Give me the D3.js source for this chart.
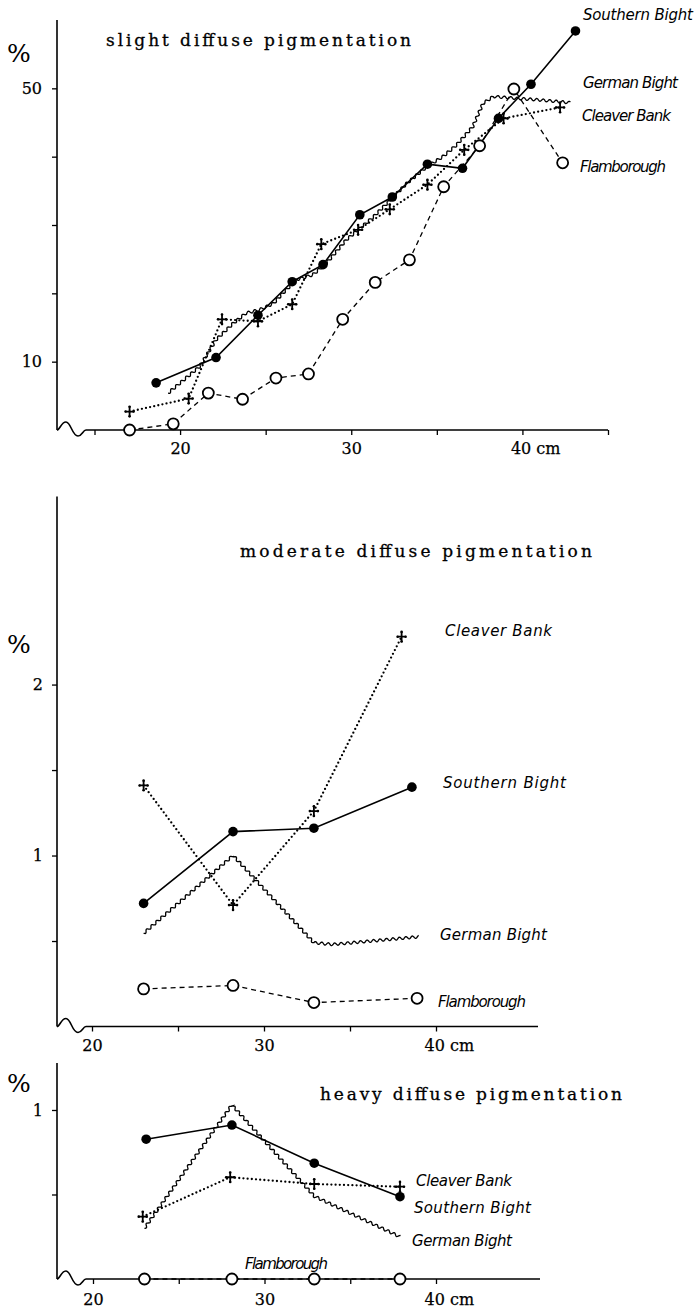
<!DOCTYPE html>
<html>
<head>
<meta charset="utf-8">
<script src="https://cdn.jsdelivr.net/npm/d3@7"></script>
<style>
body { margin: 0; background: #fff; }
svg { display: block; }
.title { font-family: "DejaVu Serif", serif; font-size: 17px; fill: #000; stroke: #000; stroke-width: 0.3px; }
.lbl { font-family: "DejaVu Sans", sans-serif; font-style: italic; font-size: 15px; fill: #000; }
.pct { font-family: "DejaVu Serif", serif; font-size: 25px; fill: #000; }
.tick text { font-family: "DejaVu Serif", serif; font-size: 16px; fill: #000; stroke: #000; stroke-width: 0.25px; }
</style>
</head>
<body>
<div id="chart"></div>
<script>
const width = 698;
const height = 1311;

const seriesNames = ["Southern Bight", "German Bight", "Cleaver Bank", "Flamborough"];
const panelTitles = ["slight diffuse pigmentation", "moderate diffuse pigmentation", "heavy diffuse pigmentation"];

// slight diffuse pigmentation (%), length in cm
const slightSouthernX = [18.6, 22.1, 24.55, 26.55, 28.35, 30.5, 32.4, 34.45, 36.5, 38.6, 40.5, 43.1];
const slightSouthernY = [6.9, 10.6, 16.8, 21.7, 24.2, 31.5, 34.1, 38.9, 38.3, 45.6, 50.6, 58.4];
const slightGermanX = [19.3, 21.15, 22.1, 23.1, 23.85, 24.65, 25.45, 26.0, 26.8, 27.75, 28.55, 29.7, 31.3, 33.25, 34.4, 35.35, 36.15, 37.1, 37.7, 38.3, 39.85, 41.0, 42.8];
const slightGermanY = [5.4, 9.3, 13.2, 15.6, 17.1, 17.6, 18.5, 20.0, 22.0, 22.7, 24.4, 27.8, 31.2, 36.1, 38.5, 40.0, 41.7, 44.4, 47.8, 48.8, 48.5, 48.3, 47.9];
const slightCleaverX = [17.05, 20.5, 22.45, 24.55, 26.55, 28.25, 30.4, 32.25, 34.45, 36.6, 38.9, 42.2];
const slightCleaverY = [2.7, 4.6, 16.2, 15.9, 18.4, 27.2, 29.3, 32.3, 35.9, 41.0, 45.6, 47.2];
const slightFlamX = [17.05, 19.6, 21.65, 23.65, 25.6, 27.5, 29.5, 31.4, 33.4, 35.4, 37.5, 39.5, 42.35];
const slightFlamY = [0, 0.9, 5.4, 4.5, 7.6, 8.2, 16.2, 21.6, 24.9, 35.6, 41.6, 49.9, 39.1];

// moderate diffuse pigmentation
const moderateSouthernX = [23.0, 28.2, 32.9, 38.6];
const moderateSouthernY = [0.72, 1.14, 1.16, 1.40];
const moderateGermanX = [23.0, 28.2, 32.9, 34.0, 39.0];
const moderateGermanY = [0.545, 1.0, 0.49, 0.48, 0.525];
const moderateCleaverX = [23.0, 28.2, 32.9, 38.0];
const moderateCleaverY = [1.41, 0.71, 1.26, 2.28];
const moderateFlamX = [23.0, 28.2, 32.9, 38.9];
const moderateFlamY = [0.22, 0.24, 0.14, 0.165];

// heavy diffuse pigmentation
const heavySouthernX = [23.1, 28.1, 32.9, 37.9];
const heavySouthernY = [0.827, 0.911, 0.685, 0.487];
const heavyGermanX = [23.0, 28.1, 32.9, 37.9];
const heavyGermanY = [0.30, 1.03, 0.49, 0.25];
const heavyCleaverX = [22.9, 28.0, 32.9, 37.9];
const heavyCleaverY = [0.369, 0.602, 0.562, 0.546];
const heavyFlamX = [23.0, 28.1, 32.9, 37.9];
const heavyFlamY = [0, 0, 0, 0];

const zip = (xs, ys) => xs.map((x, i) => [x, ys[i]]);

const svg = d3.select("#chart")
	.append("svg")
	.attr("width", width)
	.attr("height", height);

// line with a small sine ripple on it, like the hand drawn German Bight curve
function wavyPath(pts, amp, wl) {
	const p = d3.path();
	let s = 0;
	let first = true;
	for (let i = 0; i < pts.length - 1; i++) {
		const [x0, y0] = pts[i];
		const [x1, y1] = pts[i + 1];
		const len = Math.hypot(x1 - x0, y1 - y0);
		if (len === 0) continue;
		const nx = -(y1 - y0) / len;
		const ny = (x1 - x0) / len;
		const steps = Math.max(1, Math.ceil(len / 0.5));
		for (let k = first ? 0 : 1; k <= steps; k++) {
			const t = k / steps;
			const off = amp * Math.sin((2 * Math.PI * (s + t * len)) / wl);
			const x = x0 + (x1 - x0) * t + nx * off;
			const y = y0 + (y1 - y0) * t + ny * off;
			if (first) {
				p.moveTo(x, y);
				first = false;
			} else p.lineTo(x, y);
		}
		s += len;
	}
	return p.toString();
}

function drawPanel(cfg) {
	const { x, y } = cfg;
	const g = svg.append("g");
	const x0 = 57;
	const axisY = y.range()[0];
	const topY = y.range()[1];

	// y axis line
	g.append("line")
		.attr("x1", x0).attr("x2", x0)
		.attr("y1", axisY).attr("y2", topY)
		.attr("stroke", "#000").attr("stroke-width", 1.6);

	// x axis with the break sign next to the origin
	const br = d3.path();
	br.moveTo(x0, axisY);
	br.bezierCurveTo(x0 + 3, axisY, x0 + 4, axisY - 8, x0 + 9, axisY - 8);
	br.bezierCurveTo(x0 + 14, axisY - 8, x0 + 15, axisY + 6, x0 + 21, axisY + 6);
	br.bezierCurveTo(x0 + 25, axisY + 6, x0 + 26, axisY, x0 + 29, axisY);
	br.lineTo(cfg.axisEnd, axisY);
	g.append("path")
		.attr("d", br.toString())
		.attr("fill", "none")
		.attr("stroke", "#000")
		.attr("stroke-width", 1.6);

	const yAxis = g.append("g")
		.attr("transform", `translate(${x0},0)`)
		.call(d3.axisLeft(y)
			.tickValues(cfg.yTicks)
			.tickSize(5)
			.tickPadding(cfg.yPad)
			.tickFormat((d) => (cfg.yLabels.includes(d) ? d : "")));
	yAxis.select(".domain").remove();
	yAxis.selectAll(".tick line").attr("stroke-width", 1.3);

	const xAxis = g.append("g")
		.attr("transform", `translate(0,${axisY})`)
		.call(d3.axisBottom(x)
			.tickValues(cfg.xTicks)
			.tickSize(5)
			.tickPadding(cfg.xPad)
			.tickFormat((d) => (d === 40 ? "40 cm" : cfg.xLabels.includes(d) ? d : "")));
	xAxis.select(".domain").remove();
	xAxis.selectAll(".tick line").attr("stroke-width", 1.3);
	xAxis.selectAll(".tick text")
		.filter((d) => d === 40)
		.attr("text-anchor", "start")
		.attr("x", -12);

	g.append("text")
		.attr("class", "pct")
		.attr("x", 7)
		.attr("y", cfg.pctY)
		.text("%");

	g.append("text")
		.attr("class", "title")
		.attr("x", cfg.title[0])
		.attr("y", cfg.title[1])
		.attr("textLength", cfg.title[2])
		.attr("lengthAdjust", "spacing")
		.text(cfg.titleText);

	const line = d3.line().x((d) => x(d[0])).y((d) => y(d[1]));

	// Flamborough: dashed with open circles
	g.append("path")
		.attr("d", line(cfg.flam))
		.attr("fill", "none")
		.attr("stroke", "#000")
		.attr("stroke-width", 1.3)
		.attr("stroke-dasharray", "5,4");

	// German Bight: wavy line
	g.append("path")
		.attr("d", wavyPath(cfg.german.map((d) => [x(d[0]), y(d[1])]), 1.3, 6.5))
		.attr("fill", "none")
		.attr("stroke", "#000")
		.attr("stroke-width", 1.3);

	// Cleaver Bank: dotted
	g.append("path")
		.attr("d", line(cfg.cleaver))
		.attr("fill", "none")
		.attr("stroke", "#000")
		.attr("stroke-width", 2.3)
		.attr("stroke-linecap", "round")
		.attr("stroke-dasharray", "0,4.2");

	// Southern Bight: solid
	g.append("path")
		.attr("d", line(cfg.southern))
		.attr("fill", "none")
		.attr("stroke", "#000")
		.attr("stroke-width", 1.6);

	g.selectAll(".flamDot")
		.data(cfg.flam)
		.enter()
		.append("circle")
		.attr("cx", (d) => x(d[0]))
		.attr("cy", (d) => y(d[1]))
		.attr("r", 5.5)
		.attr("fill", "#fff")
		.attr("stroke", "#000")
		.attr("stroke-width", 1.8);

	const cross = g.selectAll(".cross")
		.data(cfg.cleaver)
		.enter()
		.append("g")
		.attr("transform", (d) => `translate(${x(d[0])},${y(d[1])})`);
	cross.append("path")
		.attr("d", "M-4.5,0H4.5M0,-5.5V5.5")
		.attr("stroke", "#000")
		.attr("stroke-width", 1.8);
	cross.selectAll("circle")
		.data([[0, -4.8], [0, 4.8], [-4, 0], [4, 0]])
		.enter()
		.append("circle")
		.attr("cx", (d) => d[0])
		.attr("cy", (d) => d[1])
		.attr("r", 1.3)
		.attr("fill", "#000");

	g.selectAll(".southDot")
		.data(cfg.southern)
		.enter()
		.append("circle")
		.attr("cx", (d) => x(d[0]))
		.attr("cy", (d) => y(d[1]))
		.attr("r", 4.8)
		.attr("fill", "#000");

	cfg.labels.forEach((l, i) => {
		g.append("text")
			.attr("class", "lbl")
			.attr("x", l[0])
			.attr("y", l[1])
			.attr("textLength", l[2])
			.attr("lengthAdjust", "spacing")
			.text(seriesNames[i]);
	});
}

drawPanel({
	x: d3.scaleLinear([15, 45], [94.5, 608]),
	y: d3.scaleLinear([0, 60], [430, 20]),
	axisEnd: 608,
	xTicks: [15, 20, 25, 30, 35, 40, 45],
	xLabels: [20, 30, 40],
	xPad: 8,
	yTicks: [10, 20, 30, 40, 50],
	yLabels: [10, 50],
	yPad: 10,
	pctY: 62,
	titleText: panelTitles[0],
	title: [106, 46, 305],
	southern: zip(slightSouthernX, slightSouthernY),
	german: zip(slightGermanX, slightGermanY),
	cleaver: zip(slightCleaverX, slightCleaverY),
	flam: zip(slightFlamX, slightFlamY),
	labels: [[583, 20, 110], [583, 88, 95], [582, 121, 89], [580, 172, 86]],
});

drawPanel({
	x: d3.scaleLinear([20, 40], [92, 436]),
	y: d3.scaleLinear([0, 3.1], [1026.5, 496.5]),
	axisEnd: 538,
	xTicks: [20, 25, 30, 35, 40],
	xLabels: [20, 30, 40],
	xPad: 8,
	yTicks: [0.5, 1, 1.5, 2],
	yLabels: [1, 2],
	yPad: 9,
	pctY: 653,
	titleText: panelTitles[1],
	title: [240, 557, 352],
	southern: zip(moderateSouthernX, moderateSouthernY),
	german: zip(moderateGermanX, moderateGermanY),
	cleaver: zip(moderateCleaverX, moderateCleaverY),
	flam: zip(moderateFlamX, moderateFlamY),
	labels: [[443, 788, 123], [440, 940, 107], [445, 636, 107], [438, 1007, 88]],
});

drawPanel({
	x: d3.scaleLinear([20, 40], [93, 436]),
	y: d3.scaleLinear([0, 1.278], [1279, 1063]),
	axisEnd: 540,
	xTicks: [20, 25, 30, 35, 40],
	xLabels: [20, 30, 40],
	xPad: 10,
	yTicks: [0.5, 1],
	yLabels: [1],
	yPad: 9,
	pctY: 1092,
	titleText: panelTitles[2],
	title: [320, 1100, 302],
	southern: zip(heavySouthernX, heavySouthernY),
	german: zip(heavyGermanX, heavyGermanY),
	cleaver: zip(heavyCleaverX, heavyCleaverY),
	flam: zip(heavyFlamX, heavyFlamY),
	labels: [[414, 1213, 117], [412, 1246, 100], [416, 1186, 96], [245, 1269, 83]],
});
</script>
</body>
</html>
